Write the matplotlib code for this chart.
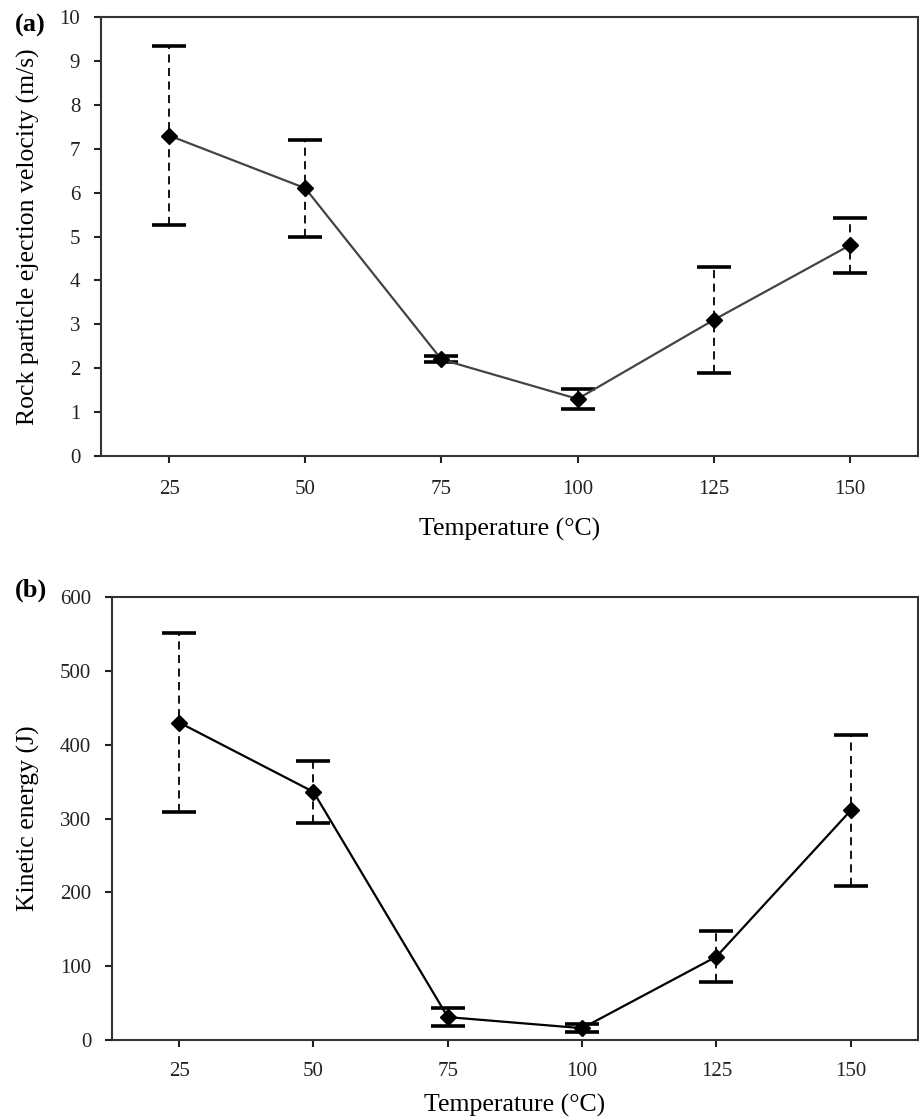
import numpy as np
import matplotlib.pyplot as plt

plt.rcParams['font.family'] = ['Liberation Serif', 'DejaVu Serif']

# Temperature categories
temperatures = ["25", "50", "75", "100", "125", "150"]

# Panel (a): ejection velocity (m/s) and error half-widths
velocity = [7.3, 6.1, 2.2, 1.3, 3.1, 4.8]
velocity_err = [2.04, 1.1, 0.07, 0.23, 1.2, 0.63]

# Panel (b): kinetic energy (J) and error half-widths
energy = [430, 336, 31, 16, 113, 311]
energy_err = [121, 42, 12, 5, 35, 102]

W, H = 920, 1117


def draw_panel(fig, ax, values, errors, line_color, ymax, ystep, ylabel,
               tick_pad, xlabel_pad):
    x = np.arange(len(temperatures)) + 0.5

    # Dashed error bars with solid caps
    eb = ax.errorbar(x, values, yerr=errors, fmt='none', ecolor='black',
                     elinewidth=1.3, capsize=12, capthick=2.6, zorder=2)
    eb[2][0].set_linestyle((0, (4.5, 3)))

    # The series line with diamond markers
    ax.plot(x, values, color=line_color, lw=1.6, zorder=3)
    ax.plot(x, values, 'D', color='black', markersize=8.5, zorder=4)

    ax.set_xlim(0, len(temperatures))
    ax.set_ylim(0, ymax)
    ax.set_xticks(x)
    ax.set_xticklabels(temperatures)
    ax.set_yticks(np.arange(0, ymax + ystep, ystep))

    ax.tick_params(axis='both', direction='out', length=5, width=1.5,
                   labelsize=15, colors='#222222')
    ax.tick_params(axis='x', pad=tick_pad)
    ax.tick_params(axis='y', pad=10)
    for spine in ax.spines.values():
        spine.set_linewidth(1.5)
        spine.set_color('#333333')

    ax.set_xlabel("Temperature (\u00b0C)", fontsize=18.5, labelpad=xlabel_pad)
    ax.set_ylabel(ylabel, fontsize=18.5)
    pos = ax.get_position()
    ax.yaxis.set_label_coords(40 / W, (pos.y0 + pos.y1) / 2,
                              transform=fig.transFigure)


fig = plt.figure(figsize=(W / 100, H / 100), dpi=100)
ax_a = fig.add_axes([101 / W, 1 - 456 / H, 817 / W, 439 / H])
ax_b = fig.add_axes([112 / W, 1 - 1040 / H, 806 / W, 443 / H])

draw_panel(fig, ax_a, velocity, velocity_err, '#444444', 10, 1,
           "Rock particle ejection velocity (m/s)", 12, 14)
draw_panel(fig, ax_b, energy, energy_err, 'black', 600, 100,
           "Kinetic energy (J)", 11, 9)

# Panel tags
fig.text(15 / W, 1 - 25 / H, "(a)", fontsize=19, fontweight='bold',
         ha='left', va='center')
fig.text(15 / W, 1 - 590 / H, "(b)", fontsize=19, fontweight='bold',
         ha='left', va='center')

fig.savefig("out.png", dpi=100)
